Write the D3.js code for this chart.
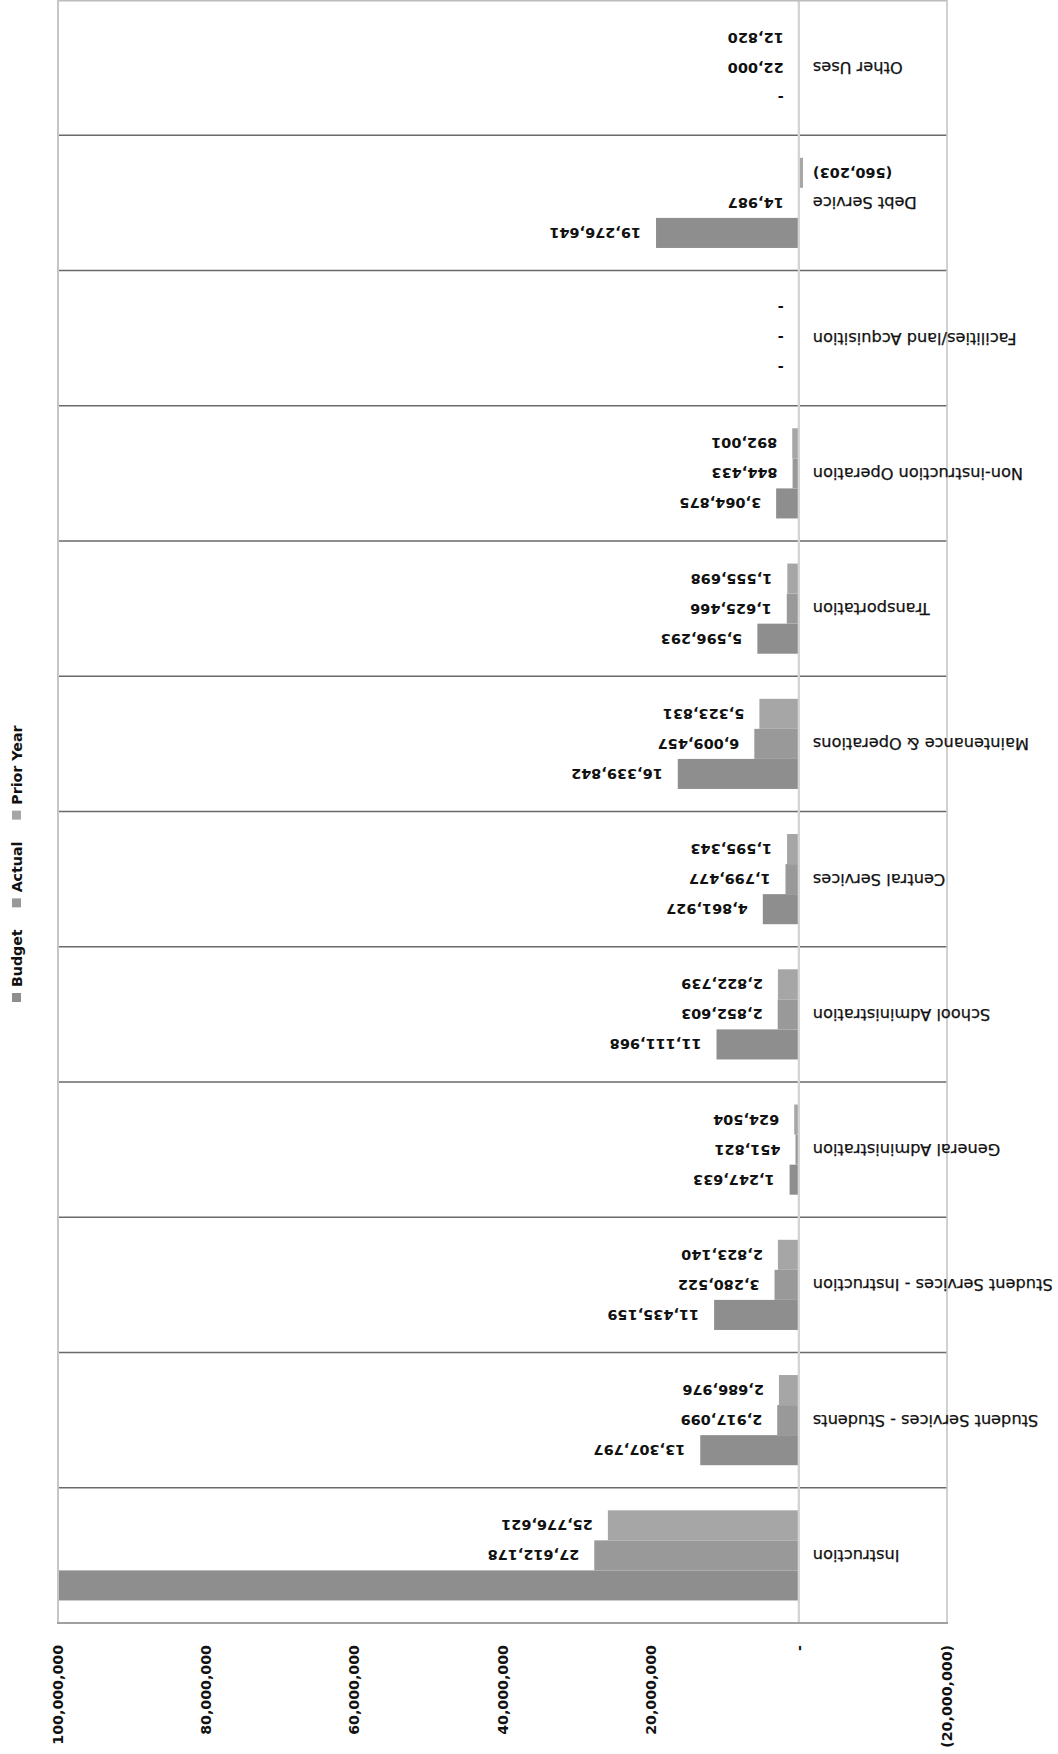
<!DOCTYPE html>
<html>
<head>
<meta charset="utf-8">
<script src="https://cdn.jsdelivr.net/npm/d3@7/dist/d3.min.js"></script>
<style>
  body { margin: 0; background: #fff; }
  text { font-family: "DejaVu Sans", sans-serif; fill: #111; }
</style>
</head>
<body>
<div id="chart"></div>
<script>
// data
const categories = ["Instruction", "Student Services - Students", "Student Services - Instruction",
  "General Administration", "School Administration", "Central Services", "Maintenance & Operations",
  "Transportation", "Non-instruction Operation", "Facilities/land Acquisition", "Debt Service", "Other Uses"];
const budget = [101000000, 13307797, 11435159, 1247633, 11111968, 4861927, 16339842, 5596293, 3064875, 0, 19276641, 0];
const actual = [27612178, 2917099, 3280522, 451821, 2852603, 1799477, 6009457, 1625466, 844433, 0, 14987, 22000];
const priorYear = [25776621, 2686976, 2823140, 624504, 2822739, 1595343, 5323831, 1555698, 892001, 0, -560203, 12820];
const seriesNames = ["Budget", "Actual", "Prior Year"];
const tickValues = [-20000000, 0, 20000000, 40000000, 60000000, 80000000, 100000000];

const colors = { "Budget": "#8e8e8e", "Actual": "#999999", "Prior Year": "#a6a6a6" };

const width = 1058, height = 1754;
const plotLeft = 58, plotRight = 947, plotTop = 0, plotBottom = 1623;

const rows = categories.map((c, i) => ({
  category: c,
  values: [
    { key: "Budget", value: budget[i] },
    { key: "Actual", value: actual[i] },
    { key: "Prior Year", value: priorYear[i] }
  ]
}));

const fmt = d3.format(",");
function label(v) {
  if (v === 0) return "-";
  if (v < 0) return "(" + fmt(-v) + ")";
  return fmt(v);
}

const svg = d3.select("#chart").append("svg")
  .attr("width", width)
  .attr("height", height);

// the whole chart is drawn upside down: values grow to the left, first category at the bottom
const x = d3.scaleLinear().domain([-20000000, 100000000]).range([plotRight, plotLeft]);
const y = d3.scaleBand().domain(categories.slice().reverse()).range([plotTop, plotBottom]);
const ySub = d3.scaleBand().domain(["Prior Year", "Actual", "Budget"])
  .range([0, y.bandwidth()]).paddingInner(0).paddingOuter(0.75);

svg.append("defs").append("clipPath").attr("id", "plotClip")
  .append("rect").attr("x", plotLeft).attr("y", plotTop)
  .attr("width", plotRight - plotLeft).attr("height", plotBottom - plotTop);

const plot = svg.append("g").attr("clip-path", "url(#plotClip)");

const groups = plot.selectAll(".cat")
  .data(rows)
  .enter().append("g")
  .attr("class", "cat")
  .attr("transform", d => `translate(0,${y(d.category)})`);

groups.selectAll("rect")
  .data(d => d.values)
  .enter().append("rect")
  .attr("x", d => Math.min(x(d.value), x(0)))
  .attr("y", d => ySub(d.key))
  .attr("width", d => Math.abs(x(d.value) - x(0)))
  .attr("height", ySub.bandwidth())
  .attr("fill", d => colors[d.key]);

// labels only for bars that end inside the plot (the off-scale one has none)
groups.selectAll("text")
  .data(d => d.values.filter(v => v.value <= x.domain()[1]))
  .enter().append("text")
  .attr("transform", d => {
    const px = d.value < 0 ? x(d.value) + 10 : x(d.value) - 15;
    return `translate(${px},${ySub(d.key) + ySub.bandwidth() / 2}) rotate(180)`;
  })
  .attr("text-anchor", d => d.value < 0 ? "end" : "start")
  .attr("dominant-baseline", "central")
  .style("font-size", "14.5px")
  .style("font-weight", "bold")
  .text(d => label(d.value));

// category separators
svg.selectAll(".sep")
  .data(categories.slice(1))
  .enter().append("line")
  .attr("x1", plotLeft).attr("x2", plotRight)
  .attr("y1", d => y(d) + y.bandwidth()).attr("y2", d => y(d) + y.bandwidth())
  .attr("stroke", "#6a6a6a")
  .attr("stroke-width", 1.3);

// zero line
svg.append("line")
  .attr("x1", x(0)).attr("x2", x(0))
  .attr("y1", plotTop).attr("y2", plotBottom)
  .attr("stroke", "#d4d4d4")
  .attr("stroke-width", 2.3);

// plot border
svg.append("line").attr("x1", plotLeft).attr("x2", plotRight).attr("y1", 0.8).attr("y2", 0.8)
  .attr("stroke", "#bcbcbc").attr("stroke-width", 1.6);
svg.append("line").attr("x1", plotLeft).attr("x2", plotLeft).attr("y1", plotTop).attr("y2", plotBottom)
  .attr("stroke", "#c6c6c6").attr("stroke-width", 2);
svg.append("line").attr("x1", plotRight).attr("x2", plotRight).attr("y1", plotTop).attr("y2", plotBottom)
  .attr("stroke", "#c6c6c6").attr("stroke-width", 1.6);
svg.append("line").attr("x1", plotLeft - 1).attr("x2", plotRight + 1).attr("y1", plotBottom).attr("y2", plotBottom)
  .attr("stroke", "#a0a0a0").attr("stroke-width", 2);

// category labels
svg.selectAll(".catLabel")
  .data(categories)
  .enter().append("text")
  .attr("class", "catLabel")
  .attr("transform", d => `translate(${x(0) + 14},${y(d) + y.bandwidth() / 2}) rotate(180)`)
  .attr("text-anchor", "end")
  .attr("dominant-baseline", "central")
  .style("font-size", "16.2px")
  .style("stroke", "#111")
  .style("stroke-width", 0.25)
  .text(d => d);

// value axis labels
svg.selectAll(".tick")
  .data(tickValues)
  .enter().append("text")
  .attr("class", "tick")
  .attr("transform", d => `translate(${x(d)},1645) rotate(-90)`)
  .attr("text-anchor", "end")
  .attr("dominant-baseline", "central")
  .style("font-size", "14.2px")
  .style("font-weight", "bold")
  .text(d => label(d));

// legend, reading bottom to top
const legend = svg.append("g");
let ly = 1002;
seriesNames.forEach(name => {
  legend.append("rect")
    .attr("x", 12).attr("y", ly - 9)
    .attr("width", 9).attr("height", 9)
    .attr("fill", colors[name]);
  const t = legend.append("text")
    .attr("transform", `translate(16.5,${ly - 15}) rotate(-90)`)
    .attr("text-anchor", "start")
    .attr("dominant-baseline", "central")
    .style("font-size", "14.2px")
    .style("font-weight", "bold")
    .text(name);
  ly = ly - 15 - t.node().getComputedTextLength() - 22;
});
</script>
</body>
</html>
